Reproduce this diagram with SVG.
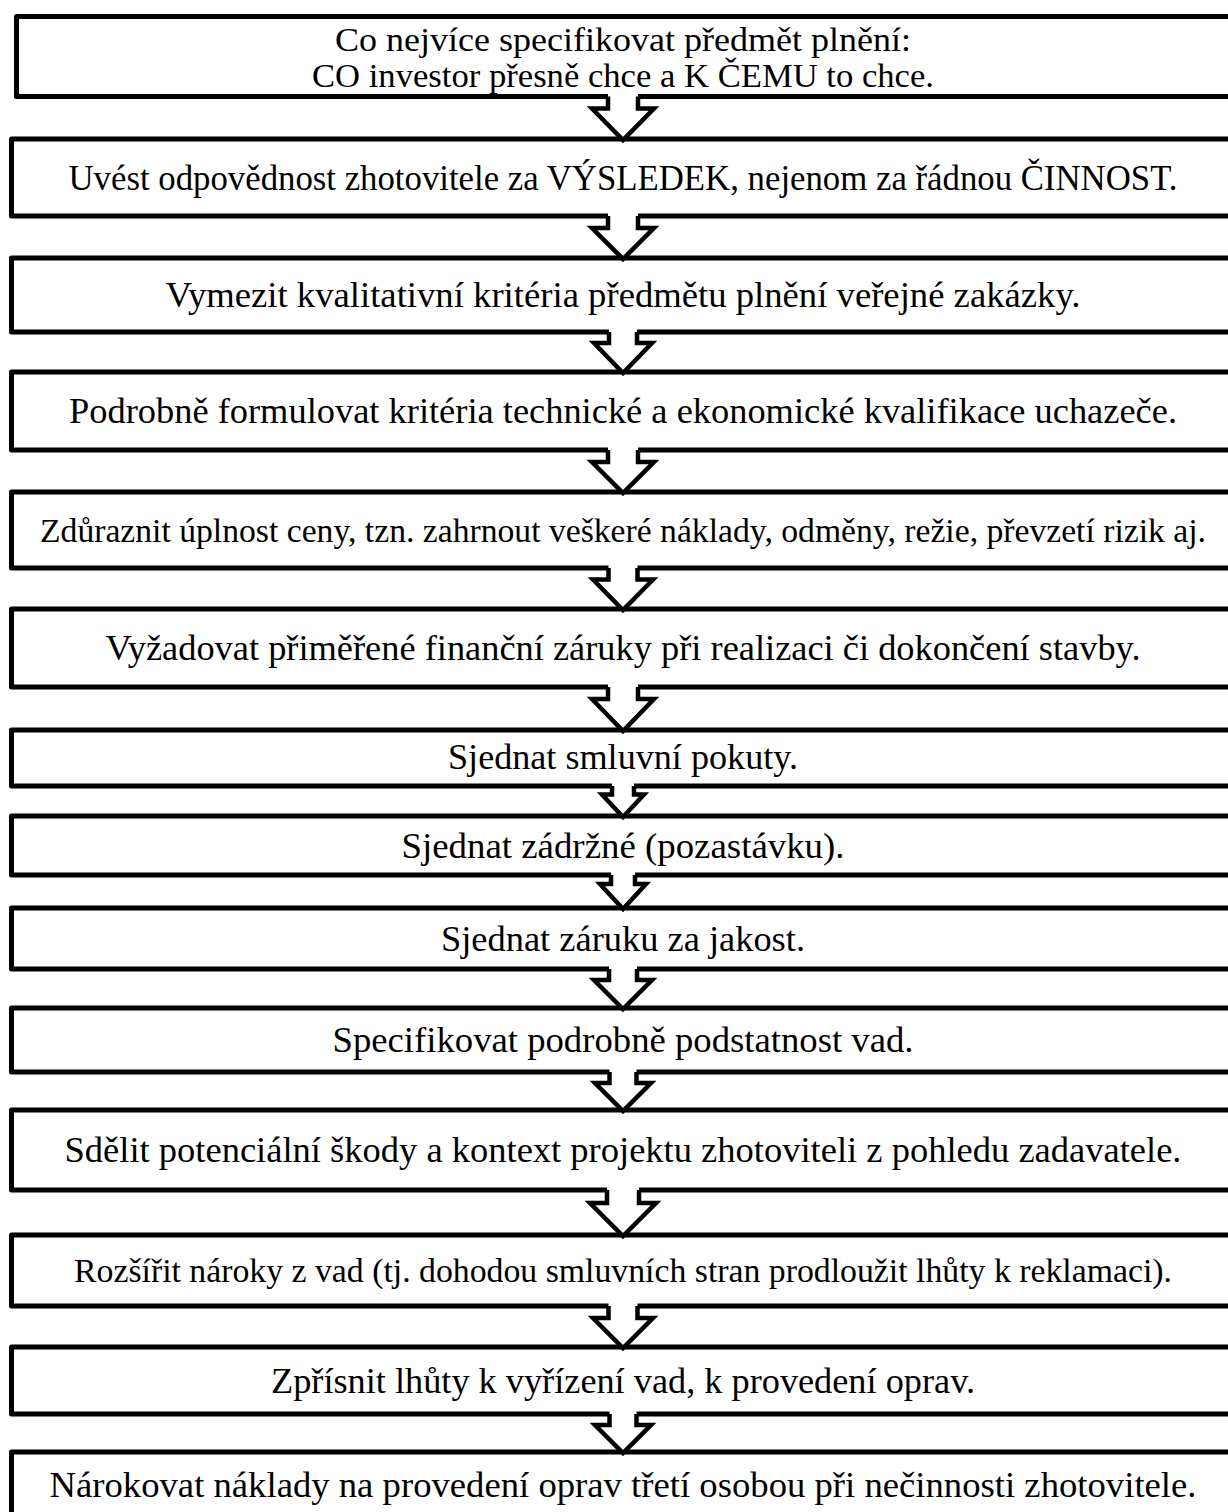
<svg xmlns="http://www.w3.org/2000/svg" width="1228" height="1512" viewBox="0 0 1228 1512">
<style>
.box{fill:#fff;stroke:#000;stroke-width:5;stroke-linejoin:round}
.t{font-family:"Liberation Serif","Times New Roman",serif;font-size:36px;fill:#000;text-anchor:middle}
.s{font-size:33px}
.h{font-size:33px}
.af{fill:#fff;stroke:none}
.as{fill:none;stroke:#000;stroke-width:4.5;stroke-linejoin:miter}
</style>
<rect width="1228" height="1512" fill="#fff"/>
<g id="nodes">
<g id="n1"><rect class="box" x="16.5" y="16.5" width="1225" height="80"/>
<text class="t h" x="623" y="51" textLength="576" lengthAdjust="spacingAndGlyphs">Co nejvíce specifikovat předmět plnění:</text>
<text class="t h" x="623" y="87" textLength="622" lengthAdjust="spacingAndGlyphs">CO investor přesně chce a K ČEMU to chce.</text></g>
<g id="n2"><rect class="box" x="11.5" y="139" width="1225" height="77"/>
<text class="t" x="623" y="190" textLength="1109" lengthAdjust="spacingAndGlyphs">Uvést odpovědnost zhotovitele za VÝSLEDEK, nejenom za řádnou ČINNOST.</text></g>
<g id="n3"><rect class="box" x="11.5" y="258" width="1225" height="74"/>
<text class="t" x="623" y="307" textLength="915" lengthAdjust="spacingAndGlyphs">Vymezit kvalitativní kritéria předmětu plnění veřejné zakázky.</text></g>
<g id="n4"><rect class="box" x="11.5" y="372" width="1225" height="78"/>
<text class="t" x="623" y="423" textLength="1108" lengthAdjust="spacingAndGlyphs">Podrobně formulovat kritéria technické a ekonomické kvalifikace uchazeče.</text></g>
<g id="n5"><rect class="box" x="11.5" y="492" width="1225" height="76"/>
<text class="t s" x="623" y="542" textLength="1166" lengthAdjust="spacingAndGlyphs">Zdůraznit úplnost ceny, tzn. zahrnout veškeré náklady, odměny, režie, převzetí rizik aj.</text></g>
<g id="n6"><rect class="box" x="11.5" y="609" width="1225" height="78"/>
<text class="t" x="623" y="660" textLength="1035" lengthAdjust="spacingAndGlyphs">Vyžadovat přiměřené finanční záruky při realizaci či dokončení stavby.</text></g>
<g id="n7"><rect class="box" x="11.5" y="730" width="1225" height="56"/>
<text class="t" x="623" y="769" textLength="350" lengthAdjust="spacingAndGlyphs">Sjednat smluvní pokuty.</text></g>
<g id="n8"><rect class="box" x="11.5" y="816" width="1225" height="59"/>
<text class="t" x="623" y="858" textLength="443" lengthAdjust="spacingAndGlyphs">Sjednat zádržné (pozastávku).</text></g>
<g id="n9"><rect class="box" x="11.5" y="908" width="1225" height="61"/>
<text class="t" x="623" y="951" textLength="364" lengthAdjust="spacingAndGlyphs">Sjednat záruku za jakost.</text></g>
<g id="n10"><rect class="box" x="11.5" y="1008" width="1225" height="64"/>
<text class="t" x="623" y="1052" textLength="581" lengthAdjust="spacingAndGlyphs">Specifikovat podrobně podstatnost vad.</text></g>
<g id="n11"><rect class="box" x="11.5" y="1110" width="1225" height="80"/>
<text class="t" x="623" y="1162" textLength="1117" lengthAdjust="spacingAndGlyphs">Sdělit potenciální škody a kontext projektu zhotoviteli z pohledu zadavatele.</text></g>
<g id="n12"><rect class="box" x="11.5" y="1235" width="1225" height="71"/>
<text class="t s" x="623" y="1282" textLength="1098" lengthAdjust="spacingAndGlyphs">Rozšířit nároky z vad (tj. dohodou smluvních stran prodloužit lhůty k reklamaci).</text></g>
<g id="n13"><rect class="box" x="11.5" y="1347" width="1225" height="67"/>
<text class="t" x="623" y="1393" textLength="704" lengthAdjust="spacingAndGlyphs">Zpřísnit lhůty k vyřízení vad, k provedení oprav.</text></g>
<g id="n14"><rect class="box" x="11.5" y="1452" width="1225" height="80"/>
<text class="t" x="623" y="1497" textLength="1147" lengthAdjust="spacingAndGlyphs">Nárokovat náklady na provedení oprav třetí osobou při nečinnosti zhotovitele.</text></g>
</g>
<g id="connectors">
<path class="af" d="M608 93 V108.5 H592 L623 140 L654 108.5 H638 V93 Z"/>
<path class="as" d="M608 96.5 V108.5 H592 L623 140 L654 108.5 H638 V96.5"/>
<path class="af" d="M608 213 V228 H592 L623 259 L654 228 H638 V213 Z"/>
<path class="as" d="M608 216 V228 H592 L623 259 L654 228 H638 V216"/>
<path class="af" d="M609 329 V343 H594 L623 373 L652 343 H637 V329 Z"/>
<path class="as" d="M609 332 V343 H594 L623 373 L652 343 H637 V332"/>
<path class="af" d="M608 447 V462 H592 L623 493 L654 462 H638 V447 Z"/>
<path class="as" d="M608 450 V462 H592 L623 493 L654 462 H638 V450"/>
<path class="af" d="M608.5 565 V579.5 H593 L623 610 L653 579.5 H637.5 V565 Z"/>
<path class="as" d="M608.5 568 V579.5 H593 L623 610 L653 579.5 H637.5 V568"/>
<path class="af" d="M608 684 V699 H592 L623 731 L654 699 H638 V684 Z"/>
<path class="as" d="M608 687 V699 H592 L623 731 L654 699 H638 V687"/>
<path class="af" d="M612 783 V794.5 H602 L623 817 L644 794.5 H634 V783 Z"/>
<path class="as" d="M612 786 V794.5 H602 L623 817 L644 794.5 H634 V786"/>
<path class="af" d="M611 872 V884 H600 L623 909 L646 884 H635 V872 Z"/>
<path class="as" d="M611 875 V884 H600 L623 909 L646 884 H635 V875"/>
<path class="af" d="M609 966 V980 H594 L623 1009 L652 980 H637 V966 Z"/>
<path class="as" d="M609 969 V980 H594 L623 1009 L652 980 H637 V969"/>
<path class="af" d="M609.5 1069 V1083 H595 L623 1111 L651 1083 H636.5 V1069 Z"/>
<path class="as" d="M609.5 1072 V1083 H595 L623 1111 L651 1083 H636.5 V1072"/>
<path class="af" d="M607 1187 V1203 H590 L623 1236 L656 1203 H639 V1187 Z"/>
<path class="as" d="M607 1190 V1203 H590 L623 1236 L656 1203 H639 V1190"/>
<path class="af" d="M608.5 1303 V1318 H593 L623 1348 L653 1318 H637.5 V1303 Z"/>
<path class="as" d="M608.5 1306 V1318 H593 L623 1348 L653 1318 H637.5 V1306"/>
<path class="af" d="M609.5 1411 V1425 H595 L623 1453 L651 1425 H636.5 V1411 Z"/>
<path class="as" d="M609.5 1414 V1425 H595 L623 1453 L651 1425 H636.5 V1414"/>
</g>
</svg>
